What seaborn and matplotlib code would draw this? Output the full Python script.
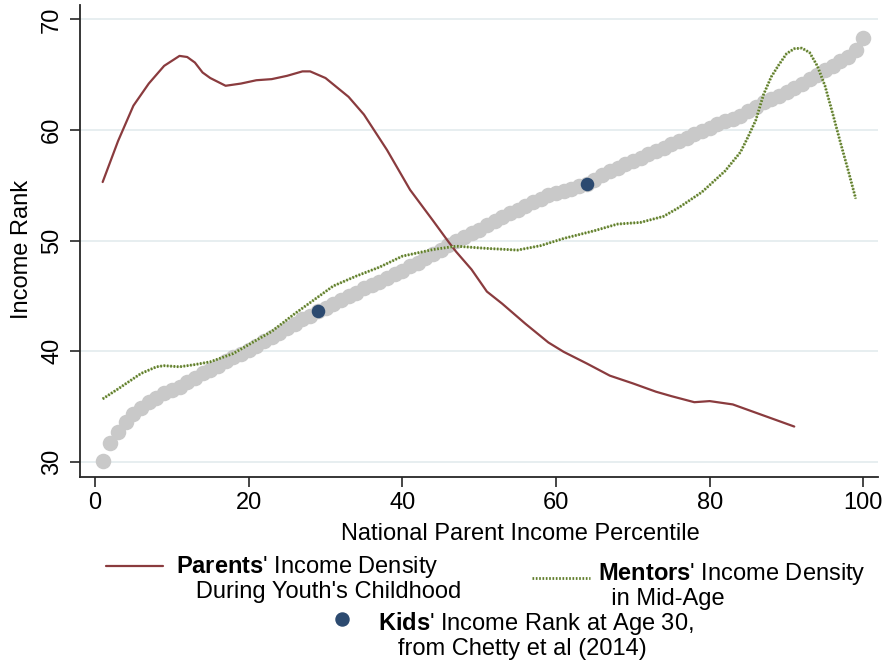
import matplotlib
matplotlib.use("Agg")
import matplotlib.pyplot as plt
import seaborn as sns
import pandas as pd
from matplotlib.lines import Line2D

# Kids' income rank at age 30 by national parent income percentile
percentile = list(range(1, 101))
kid_rank_all = [
    30.1, 31.7, 32.7, 33.6, 34.3, 34.9, 35.4, 35.8, 36.2, 36.5,
    36.8, 37.2, 37.6, 38.0, 38.3, 38.7, 39.1, 39.5, 39.8, 40.1,
    40.5, 40.9, 41.3, 41.7, 42.1, 42.5, 42.9, 43.2, 43.6, 43.9,
    44.3, 44.6, 45.0, 45.3, 45.7, 46.0, 46.3, 46.6, 47.0, 47.3,
    47.7, 48.0, 48.4, 48.8, 49.2, 49.6, 50.0, 50.3, 50.7, 51.0,
    51.4, 51.8, 52.1, 52.5, 52.8, 53.1, 53.5, 53.8, 54.1, 54.3,
    54.5, 54.7, 54.9, 55.1, 55.5, 55.9, 56.3, 56.6, 56.9, 57.2,
    57.5, 57.8, 58.1, 58.4, 58.7, 59.0, 59.3, 59.6, 59.9, 60.2,
    60.5, 60.8, 61.0, 61.3, 61.7, 62.1, 62.5, 62.8, 63.1, 63.4,
    63.8, 64.2, 64.6, 65.0, 65.4, 65.8, 66.2, 66.6, 67.2, 68.3,
]

# Highlighted kids' ranks
kid_pct = [29, 64]
kid_rank = [43.6, 55.1]

# Parents' income density during youth's childhood (rescaled to rank axis)
parent_pct = [1, 3, 5, 7, 9, 11, 12, 13, 14, 15, 17, 19, 21, 23, 25, 27, 28,
              30, 33, 35, 38, 40, 41, 44, 46, 47, 49, 51, 53, 56, 59, 61, 64,
              67, 70, 73, 75, 78, 80, 83, 87, 91]
parent_density = [55.3, 59.0, 62.2, 64.2, 65.8, 66.7, 66.6, 66.1, 65.2, 64.7,
                  64.0, 64.2, 64.5, 64.6, 64.9, 65.3, 65.3, 64.7, 63.0, 61.4,
                  58.2, 55.8, 54.6, 51.8, 49.9, 49.0, 47.4, 45.4, 44.3, 42.5,
                  40.8, 39.95, 38.9, 37.8, 37.1, 36.35, 35.95, 35.4, 35.5,
                  35.2, 34.2, 33.2]

# Mentors' income density in mid-age (rescaled to rank axis)
mentor_pct = [1, 3, 6, 8, 9, 11, 13, 15, 18, 21, 23, 26, 29, 31, 34, 37, 40,
              44, 47, 51, 55, 58, 61, 65, 68, 71, 74, 76, 79, 82, 84, 85, 86,
              87, 88, 89, 90, 91, 92, 93, 94, 95, 96, 97, 98, 99]
mentor_density = [35.7, 36.6, 38.0, 38.6, 38.7, 38.6, 38.8, 39.05, 39.8, 41.0,
                  41.8, 43.4, 44.9, 45.9, 46.8, 47.6, 48.6, 49.2, 49.5, 49.3,
                  49.15, 49.55, 50.2, 50.9, 51.5, 51.65, 52.2, 53.0, 54.4,
                  56.3, 58.0, 59.4, 60.9, 63.2, 64.8, 65.9, 66.9, 67.35, 67.4,
                  67.0, 65.8, 64.0, 61.5, 58.9, 56.4, 53.8]

x_ticks = [0, 20, 40, 60, 80, 100]
y_ticks = [30, 40, 50, 60, 70]

legend_parent = "$\\bf{Parents}$' Income Density\n   During Youth's Childhood"
legend_mentor = "$\\bf{Mentors}$' Income Density\n  in Mid-Age"
legend_kid = "$\\bf{Kids}$' Income Rank at Age 30,\n   from Chetty et al (2014)"

sns.set_theme(style="white")
plt.rcParams["font.family"] = ["Liberation Sans", "DejaVu Sans"]
plt.rcParams["mathtext.fontset"] = "custom"
plt.rcParams["mathtext.rm"] = "Liberation Sans"
plt.rcParams["mathtext.bf"] = "Liberation Sans:bold"
plt.rcParams["text.color"] = "black"
plt.rcParams["axes.labelcolor"] = "black"

FS = 17
C_PARENT = "#8a3b3e"
C_MENTOR = "#5f7c2a"
C_MENTOR_SOFT = "#cad9b0"
C_KID = "#2c4a70"
C_GRAY = "#c9c9c9"
C_AXIS = "#262626"
MENTOR_DASH = (0, (0.6, 0.6))

W, H = 884, 665
fig = plt.figure(figsize=(W / 100, H / 100), dpi=100)
ax = fig.add_axes([80 / W, 1 - 477 / H, 798 / W, 472 / H])

all_df = pd.DataFrame({"pct": percentile, "rank": kid_rank_all})
kid_df = pd.DataFrame({"pct": kid_pct, "rank": kid_rank})
par_df = pd.DataFrame({"pct": parent_pct, "dens": parent_density})
men_df = pd.DataFrame({"pct": mentor_pct, "dens": mentor_density})

sns.scatterplot(data=all_df, x="pct", y="rank", color=C_GRAY, s=125,
                linewidth=0, ax=ax, zorder=2)
sns.lineplot(data=par_df, x="pct", y="dens", color=C_PARENT, lw=1.6,
             ax=ax, zorder=3)
# soft underlay so the dotted mentor curve reads as a continuous line
sns.lineplot(data=men_df, x="pct", y="dens", color=C_MENTOR_SOFT, lw=1.0,
             ax=ax, zorder=3)
sns.lineplot(data=men_df, x="pct", y="dens", color=C_MENTOR, lw=2.0,
             linestyle=MENTOR_DASH, ax=ax, zorder=3)
sns.scatterplot(data=kid_df, x="pct", y="rank", color=C_KID, s=95,
                linewidth=0, ax=ax, zorder=4)

ax.set_xlim(-1.95, 101.9)
ax.set_ylim(28.64, 71.3)
ax.set_xticks(x_ticks)
ax.set_yticks(y_ticks)
ax.yaxis.grid(True, color="#e7eef0", lw=1.4)
ax.xaxis.grid(False)
ax.set_axisbelow(True)

for side in ["top", "right"]:
    ax.spines[side].set_visible(False)
for side in ["left", "bottom"]:
    ax.spines[side].set_color(C_AXIS)
    ax.spines[side].set_linewidth(1.3)

ax.tick_params(axis="both", direction="out", length=7.2, width=1.2,
               color=C_AXIS, labelsize=FS, labelcolor="black",
               left=True, bottom=True)
ax.tick_params(axis="y", pad=5, labelrotation=90)
ax.tick_params(axis="x", pad=3.4)
for lbl in ax.get_yticklabels():
    lbl.set_va("center")

ax.set_xlabel("National Parent Income Percentile", fontsize=FS)
ax.xaxis.label.set_va("baseline")
ax.xaxis.set_label_coords((520 - 80) / 798, (477 - 540) / 472)
ax.set_ylabel("Income Rank", fontsize=FS)
ax.yaxis.label.set_va("baseline")
ax.yaxis.set_label_coords((28 - 80) / 798, (477 - 249) / 472)

# Legend keys below the plot, with their descriptions as two-line texts
h_par = Line2D([], [], color=C_PARENT, lw=1.6)
h_men = Line2D([], [], color=C_MENTOR, lw=2.0, linestyle=MENTOR_DASH)
h_kid = Line2D([], [], color=C_KID, marker="o", markersize=9.4,
               linestyle="none")

common = dict(loc="center left", frameon=False, borderpad=0,
              borderaxespad=0, fontsize=FS, handletextpad=0)
fig.legend([h_par], [""], bbox_to_anchor=(106 / W, 1 - 568.3 / H),
           handlelength=2.42, **common)
fig.legend([h_men], [""], bbox_to_anchor=(531.7 / W, 1 - 580 / H),
           handlelength=2.47, **common)
fig.legend([h_kid], [""], bbox_to_anchor=(330 / W, 1 - 621.7 / H),
           handlelength=1.0, **common)

# Multi-line texts are anchored on the baseline of their last line
text_kw = dict(fontsize=FS, va="baseline", ha="left", linespacing=1.07)
fig.text(176.5 / W, 1 - 598.3 / H, legend_parent, **text_kw)
fig.text(597.6 / W, 1 - 605 / H, legend_mentor, **text_kw)
fig.text(378.3 / W, 1 - 655 / H, legend_kid, **text_kw)

fig.savefig("out.png", dpi=100)
